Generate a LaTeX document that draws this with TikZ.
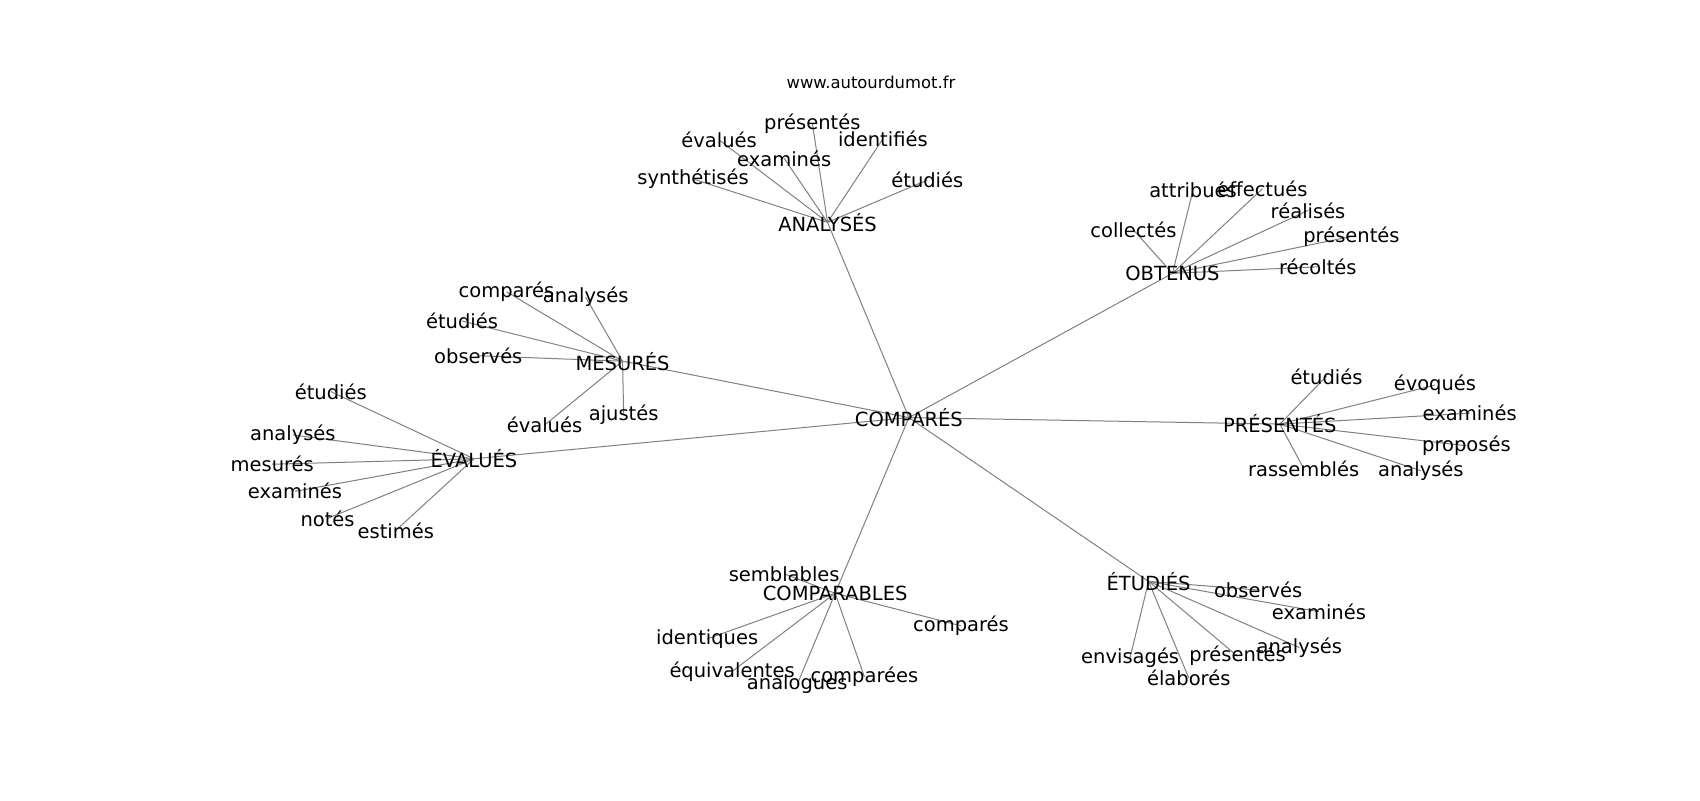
\documentclass[tikz,border=0pt]{standalone}
\usepackage{fontspec}
\setmainfont{DejaVu Sans}
\tikzset{
  lbl/.style={inner sep=0pt, font=\fontsize{19.5}{22}\selectfont, text=black},
  url/.style={inner sep=0pt, font=\fontsize{16.4}{19}\selectfont, text=black},
  edge/.style={draw=gray, line width=1pt}
}
\begin{document}
\begin{tikzpicture}[x=1.0846pt,y=-1.0846pt]
\useasboundingbox (0,0) rectangle (1567.4,737.6);
% hubs
\coordinate (c) at (838,385);
\coordinate (an) at (763,205);
\coordinate (ob) at (1081,252);
\coordinate (me) at (574,333);
\coordinate (ev) at (437,423);
\coordinate (pr) at (1180,391);
\coordinate (cb) at (770,547);
\coordinate (et) at (1059,536);
% leaves ANALYSES
\coordinate (an1) at (749,114);
\coordinate (an2) at (663,129);
\coordinate (an3) at (814,128);
\coordinate (an4) at (723,146);
\coordinate (an5) at (639,165);
\coordinate (an6) at (855,166);
% OBTENUS
\coordinate (ob1) at (1100,175);
\coordinate (ob2) at (1164,174);
\coordinate (ob3) at (1206,194);
\coordinate (ob4) at (1246,218);
\coordinate (ob5) at (1045,212);
\coordinate (ob6) at (1215,246);
% MESURES
\coordinate (me1) at (467,269);
\coordinate (me2) at (540,274);
\coordinate (me3) at (426,296);
\coordinate (me4) at (441,328);
\coordinate (me5) at (502,392);
\coordinate (me6) at (575,382);
% EVALUES
\coordinate (ev1) at (305,361);
\coordinate (ev2) at (270,401);
\coordinate (ev3) at (251,428);
\coordinate (ev4) at (272,453);
\coordinate (ev5) at (302,478);
\coordinate (ev6) at (365,489);
% PRESENTES
\coordinate (pr1) at (1223,347);
\coordinate (pr2) at (1323,355);
\coordinate (pr3) at (1355,381);
\coordinate (pr4) at (1352,411);
\coordinate (pr5) at (1310,434);
\coordinate (pr6) at (1202,432);
% COMPARABLES
\coordinate (cb1) at (723,529);
\coordinate (cb2) at (652,589);
\coordinate (cb3) at (886,577);
\coordinate (cb4) at (675,619);
\coordinate (cb5) at (735,631);
\coordinate (cb6) at (797,624);
% ETUDIES
\coordinate (et1) at (1160,544);
\coordinate (et2) at (1216,564);
\coordinate (et3) at (1198,597);
\coordinate (et4) at (1141,605);
\coordinate (et5) at (1042,606);
\coordinate (et6) at (1096,625);
% edges
\foreach \h in {an,ob,me,ev,pr,cb,et} {\draw[edge] (c) -- (\h);}
\foreach \h in {an,ob,me,ev,pr,cb,et} {\foreach \i in {1,...,6} {\draw[edge] (\h) -- (\h\i);}}
% labels
\node[url] (u) at (803,76) {www.autourdumot.fr};
\node[lbl] (nc) at (c) {COMPARÉS};
\node[lbl] (nan) at (an) {ANALYSÉS};
\node[lbl] (nob) at (ob) {OBTENUS};
\node[lbl] (nme) at (me) {MESURÉS};
\node[lbl] (nev) at (ev) {ÉVALUÉS};
\node[lbl] (npr) at (pr) {PRÉSENTÉS};
\node[lbl] (ncb) at (cb) {COMPARABLES};
\node[lbl] (net) at (et) {ÉTUDIÉS};
\node[lbl] (lan1) at (an1) {présentés};
\node[lbl] (lan2) at (an2) {évalués};
\node[lbl] (lan3) at (an3) {identifiés};
\node[lbl] (lan4) at (an4) {examinés};
\node[lbl] (lan5) at (an5) {synthétisés};
\node[lbl] (lan6) at (an6) {étudiés};
\node[lbl] (lob1) at (ob1) {attribués};
\node[lbl] (lob2) at (ob2) {effectués};
\node[lbl] (lob3) at (ob3) {réalisés};
\node[lbl] (lob4) at (ob4) {présentés};
\node[lbl] (lob5) at (ob5) {collectés};
\node[lbl] (lob6) at (ob6) {récoltés};
\node[lbl] (lme1) at (me1) {comparés};
\node[lbl] (lme2) at (me2) {analysés};
\node[lbl] (lme3) at (me3) {étudiés};
\node[lbl] (lme4) at (me4) {observés};
\node[lbl] (lme5) at (me5) {évalués};
\node[lbl] (lme6) at (me6) {ajustés};
\node[lbl] (lev1) at (ev1) {étudiés};
\node[lbl] (lev2) at (ev2) {analysés};
\node[lbl] (lev3) at (ev3) {mesurés};
\node[lbl] (lev4) at (ev4) {examinés};
\node[lbl] (lev5) at (ev5) {notés};
\node[lbl] (lev6) at (ev6) {estimés};
\node[lbl] (lpr1) at (pr1) {étudiés};
\node[lbl] (lpr2) at (pr2) {évoqués};
\node[lbl] (lpr3) at (pr3) {examinés};
\node[lbl] (lpr4) at (pr4) {proposés};
\node[lbl] (lpr5) at (pr5) {analysés};
\node[lbl] (lpr6) at (pr6) {rassemblés};
\node[lbl] (lcb1) at (cb1) {semblables};
\node[lbl] (lcb2) at (cb2) {identiques};
\node[lbl] (lcb3) at (cb3) {comparés};
\node[lbl] (lcb4) at (cb4) {équivalentes};
\node[lbl] (lcb5) at (cb5) {analogues};
\node[lbl] (lcb6) at (cb6) {comparées};
\node[lbl] (let1) at (et1) {observés};
\node[lbl] (let2) at (et2) {examinés};
\node[lbl] (let3) at (et3) {analysés};
\node[lbl] (let4) at (et4) {présentés};
\node[lbl] (let5) at (et5) {envisagés};
\node[lbl] (let6) at (et6) {élaborés};
\end{tikzpicture}
\end{document}
